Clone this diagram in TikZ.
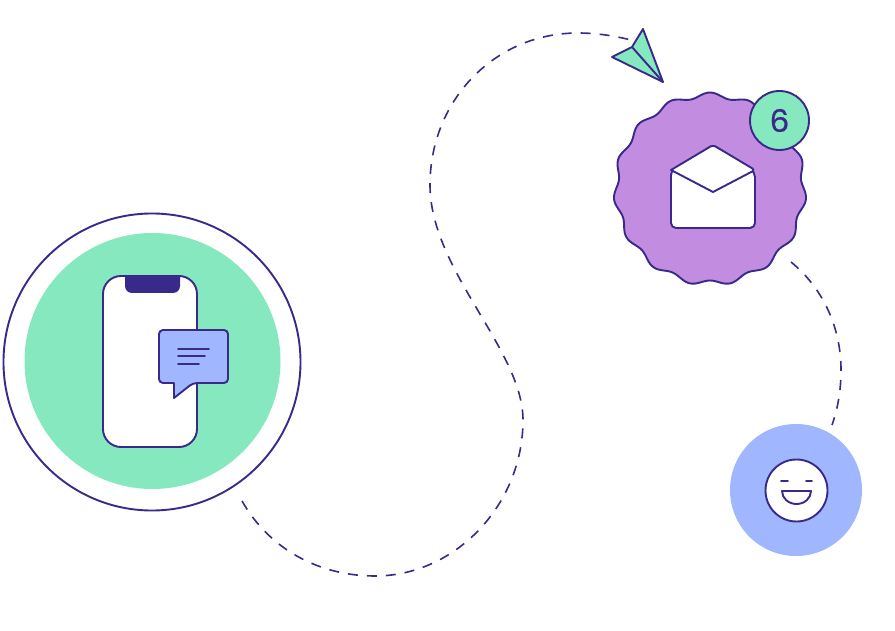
\documentclass[tikz,border=0pt]{standalone}
\usepackage{fontspec}
\setmainfont{Poppins}
\newfontfamily\digitfont[RawFeature={embolden=0.7}]{Poppins}
\usepackage{tikz}
\definecolor{navy}{HTML}{38298A}
\definecolor{mint}{HTML}{86E8BE}
\definecolor{lilac}{HTML}{C28DE0}
\definecolor{sky}{HTML}{A0B6FF}
\begin{document}
\begin{tikzpicture}[
  x=1pt, y=-1pt,
  ink/.style={draw=navy, line width=1.9pt, line join=round},
  dot/.style={circle, inner sep=0pt, outer sep=0pt, minimum size=#1},
  trail/.style={draw=navy, line width=1.6pt, dash pattern=on 10pt off 9pt},
  stroke/.style={draw=navy, line width=1.9pt, line cap=round},
  ]
  \useasboundingbox (0,0) rectangle (895,631);
  % dashed routes
  \coordinate (phoneEnd) at (242,501);
  \coordinate (planeEnd) at (635,41);
  \coordinate (mailEnd) at (791,262);
  \coordinate (faceEnd) at (832,425);
  \draw[trail] (phoneEnd) .. controls (270,550) and (320,576) .. (375,576)
    .. controls (455,576) and (523,505) .. (523,420)
    .. controls (523,350) and (430,270) .. (430,185)
    .. controls (430,100) and (495,33) .. (578,33)
    .. controls (597,33) and (616,36) .. (planeEnd);
  \draw[trail] (mailEnd) .. controls (825,290) and (841,330) .. (841,370)
    .. controls (841,390) and (838,408) .. (faceEnd);
  % phone
  \node[dot=297pt, ink] (ring) at (152,362) {};
  \node[dot=256pt, fill=mint] (disc) at (152.5,361) {};
  \node[ink, fill=white, rectangle, rounded corners=18pt, inner sep=0pt, minimum width=94pt, minimum height=171pt] (phone) at (150,361.5) {};
  \fill[navy] (125,276) -- (180,276) [rounded corners=7pt] -- (180,293) -- (125,293) [sharp corners] -- cycle;
  \draw[ink, fill=sky, rounded corners=4pt] (174,383) -- (159,383) -- (159,330) -- (228,330) -- (228,383) -- (193,383) [sharp corners] -- (174,398) -- cycle;
  \draw[stroke] (178,349) -- (209,349);
  \draw[stroke] (178,356) -- (205,356);
  \draw[stroke] (178,364) -- (199,364);
  % plane
  \coordinate (tip) at (663,82);
  \coordinate (fold) at (632,47);
  \draw[ink, fill=mint] (tip) -- (643,29) -- (fold) -- (612,57) -- cycle;
  \draw[ink] (fold) -- (tip);
  % mail
  \draw[ink, fill=lilac, shift={(710,189)}] plot[domain=0:360, samples=241] (\x:{94+2.5*cos(15*(\x+90))}) -- cycle;
  \draw[ink, fill=white, rounded corners=5pt] (671,172) -- (671,228) -- (755,228) -- (755,172) [rounded corners=3pt] -- (713,145) -- cycle;
  \draw[ink, fill=white] (671,170) [rounded corners=3pt] -- (713,145) -- (755,170) [sharp corners] -- (713,192) -- cycle;
  \node[dot=59pt, ink, fill=mint, text=navy, font=\digitfont\fontsize{31}{31}\selectfont] (badge) at (779.5,120.5) {6};
  % face
  \node[dot=132pt, fill=sky] (bluedisc) at (796,490) {};
  \node[dot=62pt, ink, fill=white] (face) at (796.5,490.5) {};
  \draw[stroke] (781,481) -- (788,481);
  \draw[stroke] (806,481) -- (812,481);
  \draw[ink] (782,491) -- (811,491) arc[start angle=0, end angle=180, x radius=14.5, y radius=13] -- cycle;
\end{tikzpicture}
\end{document}
